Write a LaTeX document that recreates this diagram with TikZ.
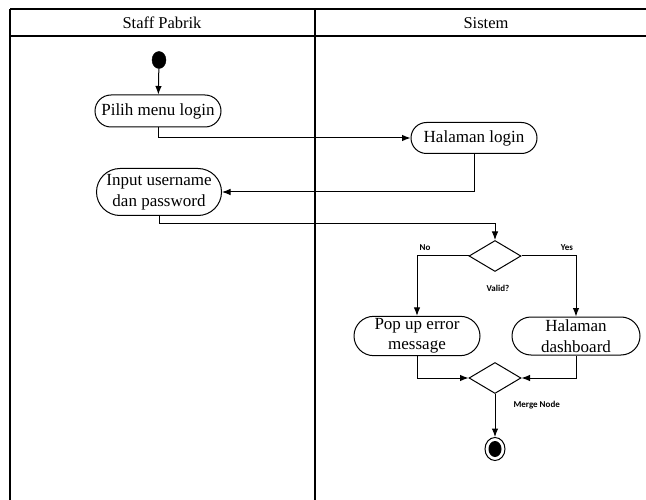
\documentclass[tikz,border=0pt]{standalone}
\usepackage{fontspec}
\setmainfont{Liberation Serif}
\newfontfamily\lblfont{Carlito}
\usetikzlibrary{shapes.misc,shapes.geometric,arrows.meta}
\begin{document}
\begin{tikzpicture}[x=1pt,y=-1pt,
  act/.style={draw,line width=1pt,rounded rectangle,inner sep=2pt,align=center,
    font=\fontsize{17}{20.5}\selectfont},
  dec/.style={draw,line width=1pt,diamond,aspect=1.68,minimum width=52pt,minimum height=31pt,inner sep=0pt},
  lane/.style={line width=1.4pt},
  flow/.style={line width=1pt,-{Latex[length=8.5pt,width=6.5pt]}},
  lbl/.style={font=\lblfont\bfseries\fontsize{9}{10}\selectfont},
  head/.style={font=\fontsize{16.5}{19.5}\selectfont}]
\useasboundingbox (0,0) rectangle (646,500);
% swimlanes
\draw[lane] (10,9) -- (646,9);
\draw[lane] (10,36) -- (646,36);
\draw[lane] (10,9) -- (10,500);
\draw[lane] (315,9) -- (315,500);
\node[head] (h1) at (162,23) {Staff Pabrik};
\node[head] (h2) at (486,23) {Sistem};
% nodes
\node[draw,fill=black,ellipse,minimum width=14pt,minimum height=17pt,inner sep=0pt] (start) at (159,60) {};
\node[act,minimum width=130pt,minimum height=32pt] (pilih) at (158,111) {Pilih menu login};
\node[act,minimum width=130pt,minimum height=31pt] (login) at (474,138) {Halaman login};
\node[act,minimum width=129pt,minimum height=47pt] (input) at (159,192) {Input username\\dan password};
\node[dec] (dec) at (495,256) {};
\node[act,minimum width=130pt,minimum height=38pt] (popup) at (417,336) {Pop up error\\message};
\node[act,minimum width=132pt,minimum height=38pt] (dash) at (576,336) {Halaman\\dashboard};
\node[dec] (merge) at (495,378) {};
\node[draw,line width=1pt,ellipse,minimum width=20pt,minimum height=23pt,inner sep=0pt] (end) at (495,449) {};
\node[fill=black,ellipse,minimum width=13pt,minimum height=16pt,inner sep=0pt] (endin) at (end.center) {};
% labels
\node[lbl] (lno) at (425,248) {No};
\node[lbl] (lyes) at (567,248) {Yes};
\node[lbl] (lvalid) at (498,288) {Valid?};
\node[lbl,anchor=west] (lmerge) at (510,405) {Merge Node};
% connectors
\coordinate (c1) at (495,224);
\draw[flow] (start) -- (pilih);
\draw[flow] (pilih.south) |- (login.west);
\draw[flow] (login.south) |- (input.east);
\draw[flow] (input.south) |- (c1) -- (dec.north);
\draw[flow] (dec.west) -| (popup.north);
\draw[flow] (dec.east) -| (dash.north);
\draw[flow] (popup.south) |- (merge.west);
\draw[flow] (dash.south) |- (merge.east);
\draw[flow] (merge.south) -- (end.north);
\end{tikzpicture}
\end{document}
